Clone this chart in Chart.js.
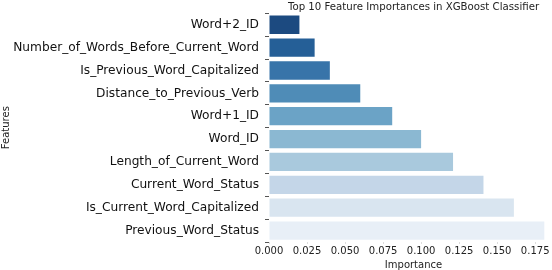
<!DOCTYPE html>
<html>
<head>
<meta charset="utf-8">
<script src="https://cdn.jsdelivr.net/npm/chart.js@4"></script>
<style>
  html, body { margin: 0; padding: 0; overflow: hidden; background: #fff; }
  #wrap { width: 558px; height: 270px; }
</style>
</head>
<body>
<div id="wrap"><canvas id="importance-chart"></canvas></div>
<script>
const features = [
  "Word+2_ID",
  "Number_of_Words_Before_Current_Word",
  "Is_Previous_Word_Capitalized",
  "Distance_to_Previous_Verb",
  "Word+1_ID",
  "Word_ID",
  "Length_of_Current_Word",
  "Current_Word_Status",
  "Is_Current_Word_Capitalized",
  "Previous_Word_Status",
];
const importances = [0.02, 0.03, 0.04, 0.06, 0.081, 0.10, 0.121, 0.141, 0.161, 0.181];
const xTickStep = 0.025;
const barColors = [
  "#1c4a80", "#255f97", "#3874a9", "#4f8cb7", "#6ba3c6",
  "#8bb8d2", "#a9c9dd", "#c4d6e8", "#d9e5f0", "#e8eff7",
];

const data_imp = {
  labels: features,
  datasets: [
    {
      label: "Importance",
      data: importances,
      backgroundColor: barColors,
      borderWidth: 0,
      barPercentage: 0.8,
      categoryPercentage: 1.0,
    },
  ],
};

const config_imp = {
  type: "bar",
  data: data_imp,
  options: {
    indexAxis: "y",
    responsive: true,
    maintainAspectRatio: false,
    animation: false,
    layout: { padding: 0 },
    plugins: {
      legend: { display: false },
      tooltip: { enabled: false },
      title: {
        display: true,
        text: "Top 10 Feature Importances in XGBoost Classifier",
        fullSize: false,
        color: "#222",
        font: { family: "DejaVu Sans", size: 10.2, weight: "normal", lineHeight: 1.2 },
        padding: { top: 0, bottom: 0 },
      },
    },
    scales: {
      x: {
        min: 0,
        max: 0.19,
        border: { display: false },
        grid: { drawOnChartArea: false, drawTicks: true, tickLength: 2, color: "#ddd" },
        ticks: {
          stepSize: xTickStep,
          includeBounds: false,
          padding: 2,
          color: "#222",
          font: { family: "DejaVu Sans", size: 10, lineHeight: 1.0 },
          maxRotation: 0,
          autoSkip: false,
          callback: (v) => v.toFixed(3),
        },
        title: {
          display: true,
          text: "Importance",
          color: "#222",
          font: { family: "DejaVu Sans", size: 10, lineHeight: 1.0 },
          padding: { top: 2, bottom: 0 },
        },
      },
      y: {
        border: { display: false },
        grid: { drawOnChartArea: false, drawTicks: true, tickLength: 4, color: "#555" },
        ticks: {
          padding: 6,
          color: "#111",
          font: { family: "DejaVu Sans", size: 12.2 },
        },
        title: {
          display: true,
          text: "Features",
          color: "#222",
          font: { family: "DejaVu Sans", size: 10 },
          padding: { top: 0, bottom: 0 },
        },
        afterFit: (scale) => { scale.width = 269; },
      },
    },
  },
};

var ctx_imp = document.getElementById("importance-chart").getContext("2d");
var impChart = new Chart(ctx_imp, config_imp);
</script>
</body>
</html>
